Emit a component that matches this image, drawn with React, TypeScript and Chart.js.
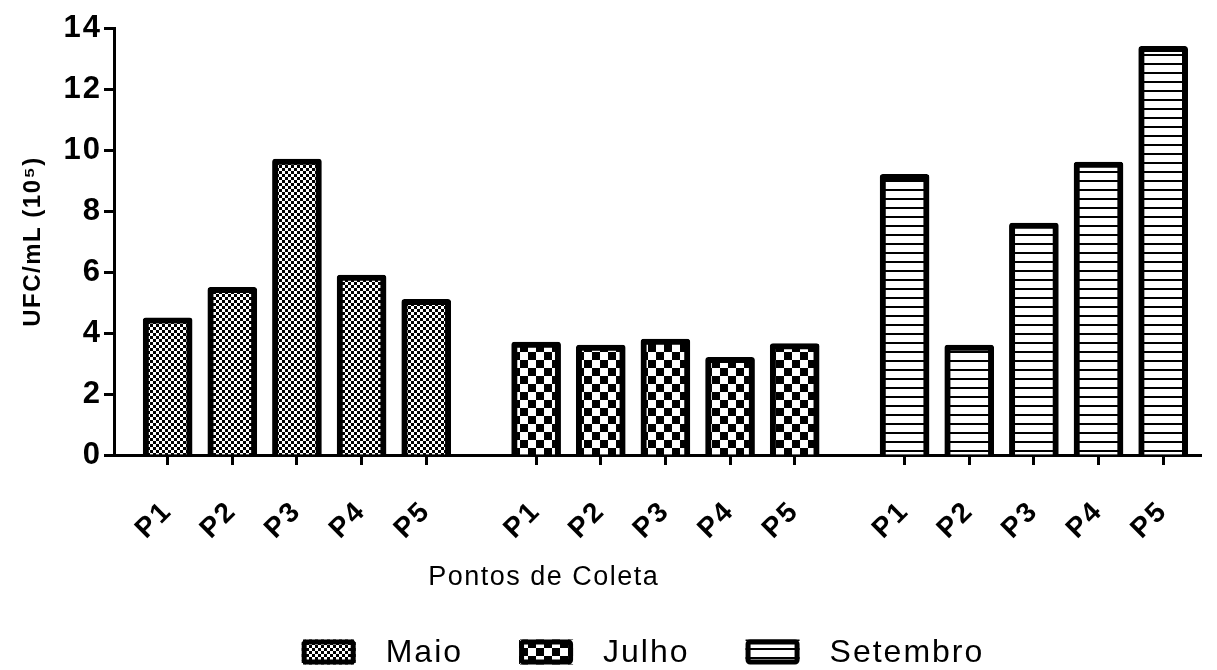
import React, { useEffect, useRef } from "react";
import { Chart, registerables } from "chart.js";

Chart.register(...registerables);

// ---- Data ----
const months = ["Maio", "Julho", "Setembro"];
const pointLabels = ["P1", "P2", "P3", "P4", "P5"];
const maioValues = [4.5, 5.5, 9.7, 5.9, 5.1];
const julhoValues = [3.7, 3.6, 3.8, 3.2, 3.65];
const setembroValues = [9.2, 3.6, 7.6, 9.6, 13.4];
const yTickValues = [0, 2, 4, 6, 8, 10, 12, 14];
const yTitle = "UFC/mL (10⁵)";
const xTitle = "Pontos de Coleta";

// ---- Layout / style ----
const FONT = '"Liberation Sans", Arial, Helvetica, sans-serif';
const groupStride = 5.7;

function makeChecker(cell: number) {
  const c = document.createElement("canvas");
  c.width = cell * 2;
  c.height = cell * 2;
  const g = c.getContext("2d")!;
  g.fillStyle = "#fff";
  g.fillRect(0, 0, c.width, c.height);
  g.fillStyle = "#000";
  g.fillRect(0, 0, cell, cell);
  g.fillRect(cell, cell, cell, cell);
  return g.createPattern(c, "repeat")!;
}

function makeStripes(spacing: number, thick: number) {
  const c = document.createElement("canvas");
  c.width = 4;
  c.height = spacing;
  const g = c.getContext("2d")!;
  g.fillStyle = "#fff";
  g.fillRect(0, 0, c.width, c.height);
  g.fillStyle = "#000";
  g.fillRect(0, 0, c.width, thick);
  return g.createPattern(c, "repeat")!;
}

export default function App() {
  const ref = useRef<HTMLCanvasElement>(null);

  useEffect(() => {
    document.body.style.margin = "0";
    const patterns = [makeChecker(3), makeChecker(8), makeStripes(9, 2)];
    const series = [maioValues, julhoValues, setembroValues];
    const positions: number[] = [];
    series.forEach((vals, g) => vals.forEach((_, i) => positions.push(g * groupStride + i)));

    const datasets = series.map((vals, g) => ({
      label: months[g],
      data: vals.map((v, i) => ({ x: g * groupStride + i, y: v })),
      backgroundColor: patterns[g],
      borderColor: "#000",
      borderWidth: 6,
      borderSkipped: "start" as const,
      borderRadius: 3,
      barThickness: 49,
      grouped: false,
    }));

    const spacing = {
      id: "spacing",
      beforeDraw(chart: any) {
        (chart.ctx as any).letterSpacing = "2px";
      },
      beforeDatasetsDraw(chart: any) {
        (chart.ctx as any).letterSpacing = "0px";
      },
    };

    const overlay = {
      id: "overlay",
      afterDraw(chart: any) {
        const ctx = chart.ctx as any;
        const area = chart.chartArea;
        ctx.save();
        ctx.fillStyle = "#000";
        ctx.textBaseline = "middle";
        // y axis title
        ctx.save();
        ctx.translate(33, (area.top + area.bottom) / 2);
        ctx.rotate(-Math.PI / 2);
        ctx.font = `bold 24px ${FONT}`;
        ctx.letterSpacing = "1.5px";
        ctx.textAlign = "center";
        ctx.fillText(yTitle, 0, 0);
        ctx.restore();
        // x axis title
        ctx.font = `27px ${FONT}`;
        ctx.letterSpacing = "1.5px";
        ctx.textAlign = "center";
        ctx.fillText(xTitle, area.left + (area.right - area.left) * 0.395, 578);
        // legend
        ctx.font = `32px ${FONT}`;
        ctx.letterSpacing = "2px";
        ctx.textAlign = "left";
        const boxW = 54, boxH = 25, gapText = 30, gapItem = 56;
        const widths = months.map((m) => boxW + gapText + ctx.measureText(m).width);
        const total = widths.reduce((a: number, b: number) => a + b, 0) + gapItem * (months.length - 1);
        let x = 643 - total / 2;
        const cy = 652;
        months.forEach((m, i) => {
          ctx.fillStyle = patterns[i];
          ctx.fillRect(x, cy - boxH / 2, boxW, boxH);
          ctx.lineWidth = 5;
          ctx.strokeStyle = "#000";
          ctx.beginPath();
          ctx.roundRect(x + 2.5, cy - boxH / 2 + 2.5, boxW - 5, boxH - 5, 2);
          ctx.stroke();
          ctx.fillStyle = "#000";
          ctx.fillText(m, x + boxW + gapText, cy + 1);
          x += widths[i] + gapItem;
        });
        ctx.restore();
      },
    };

    const chart = new Chart(ref.current!, {
      type: "bar",
      data: { datasets: datasets as any },
      options: {
        animation: false,
        responsive: true,
        maintainAspectRatio: false,
        layout: { padding: { top: 28, right: 2, left: 0, bottom: 0 } },
        plugins: {
          legend: { display: false },
          tooltip: { enabled: false },
        },
        scales: {
          x: {
            type: "linear",
            offset: false,
            min: -0.83,
            max: 16.0,
            afterBuildTicks: (scale: any) => {
              scale.ticks = positions.map((v) => ({ value: v }));
            },
            afterFit: (scale: any) => {
              scale.height = 215;
            },
            ticks: {
              autoSkip: false,
              maxRotation: 45,
              minRotation: 45,
              padding: 30,
              color: "#000",
              font: { family: FONT, weight: "bold", size: 28 },
              callback: (_v: any, i: number) => pointLabels[i % pointLabels.length],
            },
            grid: {
              offset: false,
              drawOnChartArea: false,
              drawTicks: true,
              tickLength: 10,
              tickWidth: 3,
              tickColor: "#000",
              color: "#000",
            },
            border: { display: true, color: "#000", width: 3 },
          },
          y: {
            type: "linear",
            min: 0,
            max: 14,
            afterBuildTicks: (scale: any) => {
              scale.ticks = yTickValues.map((v) => ({ value: v }));
            },
            afterFit: (scale: any) => {
              scale.width = 114;
            },
            ticks: {
              padding: 2,
              color: "#000",
              font: { family: FONT, weight: "bold", size: 31 },
            },
            grid: {
              drawOnChartArea: false,
              drawTicks: true,
              tickLength: 10,
              tickWidth: 3,
              tickColor: "#000",
              color: "#000",
            },
            border: { display: true, color: "#000", width: 3 },
          },
        },
      },
      plugins: [spacing, overlay],
    });
    return () => chart.destroy();
  }, []);

  return (
    <div style={{ position: "absolute", left: 0, top: 0, width: 1217, height: 670 }}>
      <canvas ref={ref} />
    </div>
  );
}
